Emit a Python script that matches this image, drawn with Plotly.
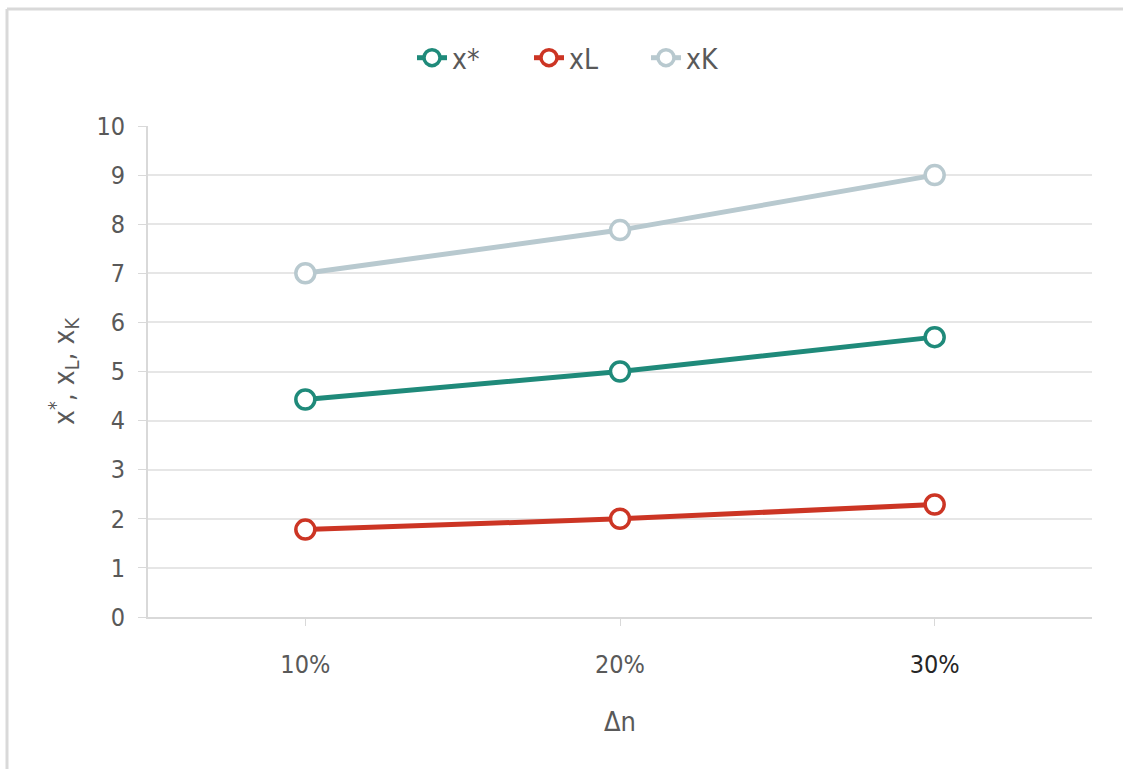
import plotly.graph_objects as go

# Category labels and series values
categories = ["10%", "20%", "30%"]
x_star = [4.43, 5.0, 5.7]
x_L = [1.78, 2.0, 2.29]
x_K = [7.0, 7.88, 9.0]

series_names = ["x*", "xL", "xK"]
series_values = [x_star, x_L, x_K]
series_colors = ["#1f8a7a", "#cc3524", "#b8c9cf"]

FONT = "DejaVu Sans Condensed, Liberation Sans Narrow, Liberation Sans, sans-serif"
TEXT = "#595959"

fig = go.Figure()
for name, vals, col in zip(series_names, series_values, series_colors):
    fig.add_trace(go.Scatter(
        x=categories, y=vals, name=name, mode="lines+markers",
        line=dict(color=col, width=5),
        marker=dict(symbol="circle", size=19, color="white",
                    line=dict(color=col, width=3.5)),
    ))

# tick labels; the last one is drawn darker
tick_text = [categories[0], categories[1],
             f'<span style="color:#262626">{categories[2]}</span>']

W, H = 1123, 769
ml, mr, mt, mb = 148, 31, 126, 152
pw, ph = W - ml - mr, H - mt - mb

def px_x(p):
    return (p - ml) / pw

def px_y(p):
    return (H - mb - p) / ph

fig.update_layout(
    width=W, height=H,
    margin=dict(l=ml, r=mr, t=mt, b=mb),
    paper_bgcolor="white", plot_bgcolor="white",
    font=dict(family=FONT, size=25, color=TEXT),
    showlegend=True,
    legend=dict(orientation="h", x=px_x(412), y=px_y(58),
                xanchor="left", yanchor="middle",
                font=dict(family=FONT, size=28, color=TEXT),
                entrywidth=72, entrywidthmode="pixels",
                tracegroupgap=0),
    xaxis=dict(
        type="category", range=[-0.5, 2.5],
        tickmode="array", tickvals=categories, ticktext=tick_text,
        showgrid=False, showline=True, linecolor="#d9d9d9", linewidth=2,
        ticks="outside", ticklen=7, tickcolor="#d9d9d9", tickwidth=1,
        ticklabelstandoff=17,
        tickfont=dict(family=FONT, size=25, color=TEXT),
        title=dict(text="Δn", font=dict(family=FONT, size=27, color=TEXT),
                   standoff=34),
        zeroline=False,
    ),
    yaxis=dict(
        range=[0, 10], dtick=1,
        showgrid=True, gridcolor="#e6e6e6", gridwidth=2,
        showline=True, linecolor="#d9d9d9", linewidth=2,
        ticks="outside", ticklen=8, tickcolor="#d9d9d9",
        ticklabelstandoff=8,
        tickfont=dict(family=FONT, size=25, color=TEXT),
        title=dict(text="x<sup>*</sup>, x<sub>L</sub>, x<sub>K</sub>",
                   font=dict(family=FONT, size=28, color=TEXT),
                   standoff=14),
        zeroline=False,
    ),
)

# outer frame along the left and top edges
fig.add_shape(type="line", xref="paper", yref="paper",
              x0=px_x(7), x1=px_x(7), y0=px_y(9), y1=px_y(H + 5),
              line=dict(color="#d9d9d9", width=3))
fig.add_shape(type="line", xref="paper", yref="paper",
              x0=px_x(7), x1=px_x(W + 5), y0=px_y(9), y1=px_y(9),
              line=dict(color="#d9d9d9", width=3))

fig.write_html("out.html")
